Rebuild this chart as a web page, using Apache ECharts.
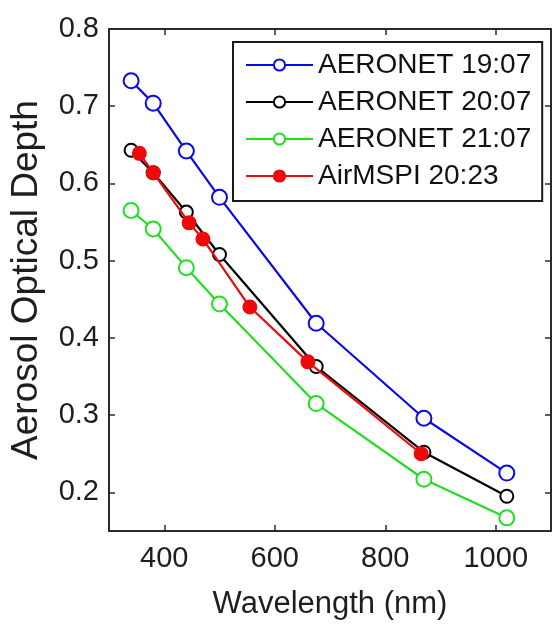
<!DOCTYPE html>
<html>
<head>
<meta charset="utf-8">
<script src="https://cdn.jsdelivr.net/npm/echarts@6/dist/echarts.min.js"></script>
<style>
  html, body { margin: 0; padding: 0; background: #fff; }
  #chart { width: 553px; height: 629px; }
</style>
</head>
<body>
<div id="chart"></div>
<script>
// AERONET sun photometer channels (nm)
const aeronetWavelengths = [340, 380, 440, 500, 675, 870, 1020];
const aeronet1907 = [0.733, 0.704, 0.642, 0.582, 0.419, 0.296, 0.225];
const aeronet2007 = [0.643, 0.614, 0.563, 0.508, 0.363, 0.252, 0.195];
const aeronet2107 = [0.565, 0.541, 0.491, 0.444, 0.315, 0.217, 0.167];

// AirMSPI retrieval bands (nm)
const airmspiWavelengths = [355, 380, 445, 470, 555, 660, 865];
const airmspi2023 = [0.639, 0.614, 0.549, 0.528, 0.440, 0.369, 0.250];

const seriesNames = ['AERONET 19:07', 'AERONET 20:07', 'AERONET 21:07', 'AirMSPI 20:23'];
const xTicks = [400, 600, 800, 1000];
const yTicks = [0.2, 0.3, 0.4, 0.5, 0.6, 0.7, 0.8];

const pairs = (xs, ys) => xs.map((x, i) => [x, ys[i]]);

const FONT = '"Liberation Sans", Arial, Helvetica, sans-serif';
const AXIS_COLOR = '#2b2b2b';
const TEXT_COLOR = '#1e1e1e';

const tickStyle = (values) => ({
  show: true, inside: true, length: 6, customValues: values,
  lineStyle: { color: AXIS_COLOR, width: 1.5 }
});

const frameAxis = (extra) => Object.assign({
  type: 'value',
  axisLine: { show: true, onZero: false, lineStyle: { color: AXIS_COLOR, width: 2 } },
  splitLine: { show: false }
}, extra);

const chart = echarts.init(document.getElementById('chart'), null, { renderer: 'canvas' });

const lineSeries = (name, data, color, symbol, size, z) => ({
  name: name,
  type: 'line',
  data: data,
  symbol: symbol,
  symbolSize: size,
  showSymbol: true,
  z: z,
  lineStyle: { color: color, width: 2.2 },
  itemStyle: { color: color, borderColor: color, borderWidth: 2 },
  emphasis: { disabled: true },
  animation: false
});

chart.setOption({
  animation: false,
  backgroundColor: '#ffffff',
  grid: { left: 104, right: 2, top: 29, bottom: 98 },
  legend: {
    data: seriesNames,
    orient: 'vertical',
    left: 233,
    top: 42,
    padding: [9, 11, 11, 12],
    itemGap: 9,
    itemWidth: 67,
    itemHeight: 14,
    borderColor: '#1a1a1a',
    borderWidth: 2,
    backgroundColor: '#ffffff',
    selectedMode: false,
    textStyle: { fontFamily: FONT, fontSize: 28, color: '#111111', lineHeight: 28 }
  },
  xAxis: [
    frameAxis({
      min: 300, max: 1100,
      position: 'bottom',
      name: 'Wavelength (nm)',
      nameLocation: 'middle',
      nameGap: 58,
      nameTextStyle: { fontFamily: FONT, fontSize: 31, color: TEXT_COLOR },
      axisTick: tickStyle(xTicks),
      axisLabel: {
        show: true, customValues: xTicks, margin: 13,
        fontFamily: FONT, fontSize: 29, color: TEXT_COLOR,
        formatter: (v) => String(v)
      }
    }),
    frameAxis({
      min: 300, max: 1100,
      position: 'top',
      axisTick: tickStyle(xTicks),
      axisLabel: { show: false }
    })
  ],
  yAxis: [
    frameAxis({
      min: 0.15, max: 0.8,
      position: 'left',
      name: 'Aerosol Optical Depth',
      nameLocation: 'middle',
      nameGap: 64,
      nameTextStyle: { fontFamily: FONT, fontSize: 37, color: TEXT_COLOR },
      axisTick: tickStyle(yTicks),
      axisLabel: {
        show: true, customValues: yTicks, margin: 10,
        fontFamily: FONT, fontSize: 29, color: TEXT_COLOR,
        formatter: (v) => v.toFixed(1)
      }
    }),
    frameAxis({
      min: 0.15, max: 0.8,
      position: 'right',
      axisTick: tickStyle(yTicks),
      axisLabel: { show: false }
    })
  ],
  series: [
    lineSeries(seriesNames[0], pairs(aeronetWavelengths, aeronet1907), '#0a0ae6', 'emptyCircle', 15, 2),
    lineSeries(seriesNames[1], pairs(aeronetWavelengths, aeronet2007), '#000000', 'emptyCircle', 13, 3),
    lineSeries(seriesNames[2], pairs(aeronetWavelengths, aeronet2107), '#22dd22', 'emptyCircle', 15, 2),
    lineSeries(seriesNames[3], pairs(airmspiWavelengths, airmspi2023), '#ee0a0a', 'circle', 13, 4)
  ]
});
</script>
</body>
</html>
